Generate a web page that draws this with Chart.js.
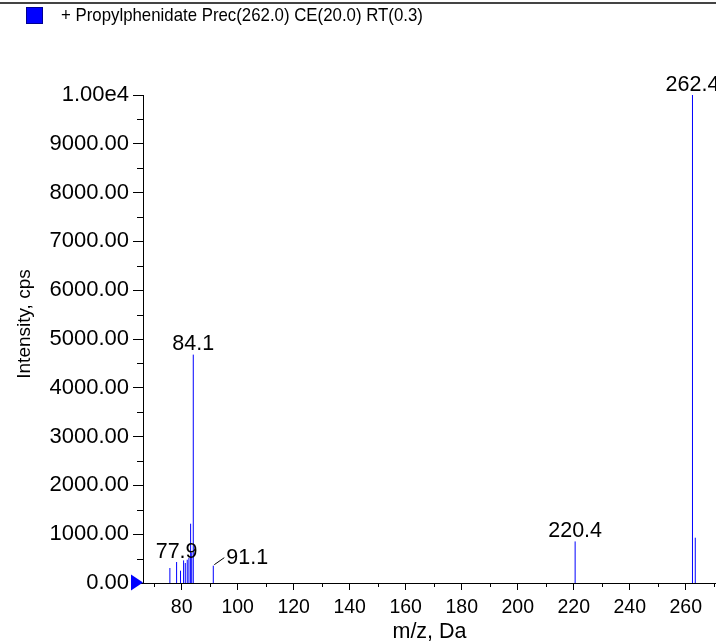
<!DOCTYPE html>
<html>
    <head>
        <meta charset="utf-8">
        <title>Propylphenidate MS/MS</title>
        <script src="https://cdn.jsdelivr.net/npm/chart.js"></script>
        <style>
            html, body {
                margin: 0;
                padding: 0;
                background: #fff;
                overflow: hidden;
            }
            .wrap {
                position: relative;
                width: 716px;
                height: 641px;
            }
            .topline {
                position: absolute;
                left: 0;
                top: 2px;
                width: 716px;
                border-top: 2px solid #444;
            }
            .legend-box {
                position: absolute;
                left: 26px;
                top: 7px;
                width: 15px;
                height: 15px;
                background: #0000ff;
                border: 1px solid #000090;
            }
            .legend-text {
                position: absolute;
                left: 61px;
                top: 5px;
                font-family: "Liberation Sans", Arial, sans-serif;
                font-size: 19px;
                line-height: 19px;
                white-space: nowrap;
                transform: scaleX(0.885);
                transform-origin: left top;
                color: #000;
            }
            canvas {
                position: absolute;
                left: 0;
                top: 0;
            }
        </style>
    </head>

    <body>
        <div class="wrap">
            <canvas id="spectrum" width="716" height="641"></canvas>
            <div class="topline"></div>
            <div class="legend-box"></div>
            <div class="legend-text">+ Propylphenidate Prec(262.0) CE(20.0) RT(0.3)</div>
        </div>

        <script>
            // пики спектра (m/z и интенсивность)
            const peakMz = [75.8, 78.2, 79.6, 80.7, 81.3, 82.0, 82.6, 83.2, 83.6, 84.15, 91.3, 220.5, 262.4, 263.4];
            const peakIntensity = [307, 430, 252, 463, 410, 477, 512, 1215, 620, 4680, 355, 852, 10000, 928];
            const peakLabels = ['', '77.9', '', '', '', '', '', '', '', '84.1', '91.1', '220.4', '262.4', ''];

            const xTickValues = [80, 100, 120, 140, 160, 180, 200, 220, 240, 260];
            const yTickValues = [0, 1000, 2000, 3000, 4000, 5000, 6000, 7000, 8000, 9000, 10000];
            const yTickLabels = ['0.00', '1000.00', '2000.00', '3000.00', '4000.00', '5000.00',
                                 '6000.00', '7000.00', '8000.00', '9000.00', '1.00e4'];

            const FONT = '"Liberation Sans", Arial, sans-serif';

            // каждый пик - вертикальный отрезок от нуля, разрывы через null
            const segments = [];
            for (let i = 0; i < peakMz.length; i++) {
                segments.push({x: peakMz[i], y: 0});
                segments.push({x: peakMz[i], y: peakIntensity[i]});
                segments.push({x: peakMz[i], y: null});
            }

            // мелкие штрихи, треугольник, подписи пиков, подпись оси Y
            const decor = {
                id: 'decor',
                afterDraw(chart) {
                    const ctx = chart.ctx;
                    const xs = chart.scales.x;
                    const ys = chart.scales.y;
                    const area = chart.chartArea;
                    ctx.save();

                    ctx.strokeStyle = '#000';
                    ctx.lineWidth = 1;
                    ctx.beginPath();
                    for (let v = 500; v < 10000; v += 1000) {
                        const py = Math.round(ys.getPixelForValue(v)) + 0.5;
                        ctx.moveTo(area.left - 6, py);
                        ctx.lineTo(area.left, py);
                    }
                    for (let v = 70; v <= 270; v += 20) {
                        const px = Math.round(xs.getPixelForValue(v)) + 0.5;
                        if (px > area.right) continue;
                        ctx.moveTo(px, area.bottom);
                        ctx.lineTo(px, area.bottom + 4);
                    }
                    ctx.stroke();

                    // синий треугольник у нуля
                    const y0 = ys.getPixelForValue(0);
                    ctx.fillStyle = '#0000ff';
                    ctx.beginPath();
                    ctx.moveTo(area.left - 12, y0 - 8.5);
                    ctx.lineTo(area.left, y0 - 0.5);
                    ctx.lineTo(area.left - 12, y0 + 7.5);
                    ctx.closePath();
                    ctx.fill();

                    // подписи пиков
                    ctx.fillStyle = '#000';
                    ctx.font = '21.5px ' + FONT;
                    ctx.textBaseline = 'alphabetic';
                    for (let i = 0; i < peakLabels.length; i++) {
                        if (!peakLabels[i]) continue;
                        const px = xs.getPixelForValue(peakMz[i]);
                        const py = ys.getPixelForValue(peakIntensity[i]);
                        if (peakLabels[i] === '91.1') {
                            ctx.strokeStyle = '#000';
                            ctx.beginPath();
                            ctx.moveTo(px + 1, py - 1);
                            ctx.lineTo(px + 11, py - 8);
                            ctx.stroke();
                            ctx.textAlign = 'left';
                            ctx.fillText(peakLabels[i], px + 13, py - 2);
                        } else {
                            ctx.textAlign = 'center';
                            ctx.fillText(peakLabels[i], px, py - 4.5);
                        }
                    }

                    // подпись оси Y
                    ctx.translate(25, 324);
                    ctx.rotate(-Math.PI / 2);
                    ctx.textAlign = 'center';
                    ctx.textBaseline = 'middle';
                    ctx.font = '19px ' + FONT;
                    ctx.fillText('Intensity, cps', 0, 0);
                    ctx.restore();
                }
            };

            const ctx = document.getElementById('spectrum').getContext('2d');
            new Chart(ctx, {
                type: 'line',
                data: {
                    datasets: [{
                        data: segments,
                        borderColor: '#0000ff',
                        borderWidth: 1,
                        pointRadius: 0,
                        spanGaps: false,
                        tension: 0
                    }]
                },
                options: {
                    responsive: false,
                    animation: false,
                    layout: {
                        padding: {top: 95, left: 0, right: 0, bottom: 0}
                    },
                    plugins: {
                        legend: {display: false},
                        tooltip: {enabled: false}
                    },
                    scales: {
                        x: {
                            type: 'linear',
                            min: 66.2,
                            max: 270.8,
                            afterBuildTicks: s => { s.ticks = xTickValues.map(v => ({value: v})); },
                            afterFit: s => { s.height = 58; },
                            grid: {drawOnChartArea: false, tickLength: 7, color: '#000'},
                            border: {color: '#000'},
                            ticks: {
                                font: {family: FONT, size: 19.5},
                                color: '#000',
                                padding: 6,
                                maxRotation: 0,
                                autoSkip: false
                            },
                            title: {
                                display: true,
                                text: 'm/z, Da',
                                color: '#000',
                                font: {family: FONT, size: 21.5},
                                padding: {top: 0, bottom: -4}
                            }
                        },
                        y: {
                            min: 0,
                            max: 10000,
                            afterBuildTicks: s => { s.ticks = yTickValues.map(v => ({value: v})); },
                            afterFit: s => { s.width = 143; },
                            grid: {drawOnChartArea: false, tickLength: 10, color: '#000'},
                            border: {color: '#000'},
                            ticks: {
                                font: {family: FONT, size: 22},
                                color: '#000',
                                padding: 4,
                                autoSkip: false,
                                callback: (v, i) => yTickLabels[i]
                            }
                        }
                    }
                },
                plugins: [decor]
            });
        </script>
    </body>
</html>
